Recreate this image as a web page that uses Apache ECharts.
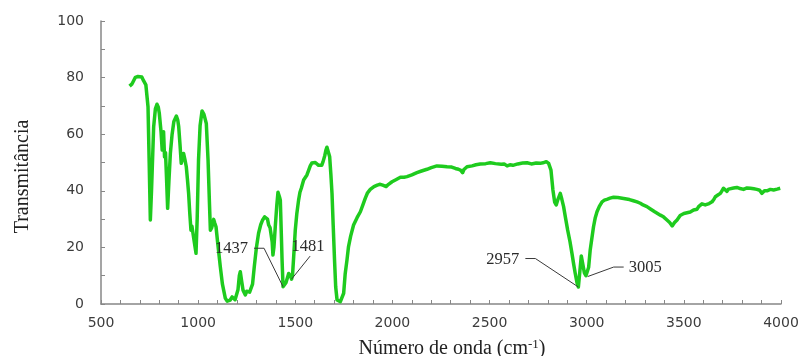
<!DOCTYPE html>
<html>
<head>
<meta charset="utf-8">
<script src="https://cdn.jsdelivr.net/npm/echarts@6/dist/echarts.min.js"></script>
<style>
  html, body { margin: 0; padding: 0; background: #ffffff; }
  #chart { width: 802px; height: 356px; }
</style>
</head>
<body>
<div id="chart"></div>
<script>
// FTIR spectrum: wavenumber (cm-1) against transmittance (%)
const wavenumbers = [
  647, 660, 668, 677, 690, 699, 710, 719, 731, 742, 748, 754, 760, 771, 780, 788, 795, 800, 809, 815,
  822, 827, 832, 837, 843, 850, 857, 866, 875, 888, 895, 900, 907, 913, 919, 925, 932, 939, 945, 951,
  957, 963, 968, 973, 980, 989, 995, 1002, 1010, 1020, 1030, 1042, 1051, 1058, 1063, 1070, 1080, 1086, 1092, 1100,
  1114, 1125, 1140, 1150, 1165, 1175, 1183, 1190, 1196, 1205, 1212, 1217, 1224, 1231, 1243, 1250, 1257, 1265, 1272, 1280,
  1289, 1300, 1311, 1322, 1332, 1342, 1351, 1357, 1363, 1370, 1377, 1381, 1385, 1390, 1397, 1405, 1411, 1416, 1420, 1423,
  1428, 1432, 1437, 1445, 1452, 1460, 1466, 1472, 1476, 1481, 1486, 1492, 1500, 1508, 1517, 1524, 1531, 1537, 1543, 1550,
  1560, 1570, 1577, 1585, 1594, 1603, 1612, 1620, 1629, 1636, 1643, 1652, 1658, 1663, 1668, 1677, 1683, 1689, 1695, 1702,
  1708, 1715, 1722, 1732, 1740, 1749, 1757, 1766, 1774, 1785, 1800, 1818, 1835, 1848, 1860, 1872, 1886, 1905, 1922, 1937,
  1950, 1960, 1968, 1980, 1998, 2020, 2041, 2060, 2075, 2100, 2126, 2150, 2178, 2200, 2229, 2255, 2281, 2305, 2324, 2340,
  2352, 2361, 2368, 2384, 2410, 2430, 2452, 2480, 2504, 2530, 2560, 2575, 2590, 2605, 2620, 2645, 2670, 2693, 2715, 2740,
  2761, 2775, 2792, 2804, 2816, 2826, 2835, 2843, 2852, 2864, 2872, 2881, 2892, 2902, 2914, 2924, 2933, 2941, 2950, 2957,
  2964, 2972, 2980, 2988, 2996, 3005, 3010, 3018, 3026, 3035, 3044, 3053, 3065, 3079, 3091, 3104, 3120, 3138, 3160, 3190,
  3220, 3240, 3259, 3276, 3290, 3310, 3330, 3350, 3379, 3395, 3413, 3427, 3440, 3452, 3465, 3481, 3500, 3533, 3550, 3568,
  3576, 3585, 3593, 3602, 3610, 3619, 3630, 3645, 3655, 3662, 3675, 3688, 3696, 3704, 3713, 3722, 3730, 3739, 3756, 3773,
  3790, 3807, 3825, 3842, 3860, 3876, 3890, 3902, 3915, 3928, 3945, 3962, 3980, 3996
];

const transmittance = [
  77.0, 77.8, 78.0, 80.1, 80.4, 80.9, 80.2, 78.9, 77.4, 69.7, 50.0, 29.7, 40.0, 62.6, 69.0, 70.6, 69.5, 67.4, 60.9, 54.4,
  60.9, 52.0, 53.5, 45.0, 33.8, 44.0, 53.2, 60.0, 64.5, 66.4, 65.0, 62.6, 56.0, 49.7, 51.5, 53.2, 51.0, 48.5, 44.0, 39.1,
  32.0, 26.1, 27.5, 27.3, 22.0, 17.9, 30.0, 50.9, 63.0, 68.2, 67.0, 63.8, 50.9, 36.0, 26.1, 27.0, 29.9, 28.5, 27.3, 22.0,
  13.2, 7.0, 2.0, 1.0, 1.4, 2.5, 2.4, 1.5, 1.7, 5.0, 10.0, 11.4, 8.0, 4.9, 3.2, 4.5, 4.9, 4.2, 3.8, 7.0,
  13.2, 20.0, 25.0, 28.0, 29.7, 30.8, 31.2, 30.0, 27.9, 27.0, 26.7, 22.0, 17.3, 20.0, 27.3, 35.0, 39.5, 39.0, 37.5, 36.7,
  25.0, 15.5, 6.1, 6.5, 7.5, 8.2, 10.8, 10.4, 9.8, 8.8, 10.5, 17.0, 26.1, 32.0, 36.7, 39.5, 40.9, 41.5, 43.8, 44.2,
  45.6, 47.5, 48.8, 49.8, 50.3, 50.0, 49.5, 49.0, 48.3, 49.0, 50.3, 52.5, 54.5, 55.4, 55.0, 52.0, 46.0, 39.1, 28.0, 15.5,
  6.0, 1.4, 0.8, 0.8, 1.5, 3.8, 10.8, 15.5, 20.3, 24.0, 27.9, 30.5, 32.6, 35.0, 37.3, 39.3, 40.5, 41.5, 42.0, 42.3,
  42.0, 41.5, 41.5, 42.3, 43.2, 44.0, 44.8, 44.8, 45.0, 45.6, 46.4, 47.0, 47.6, 48.2, 48.8, 48.7, 48.5, 48.4, 47.9, 47.6,
  47.2, 46.4, 47.5, 48.5, 48.8, 49.2, 49.5, 49.6, 49.9, 49.6, 49.4, 49.5, 48.8, 49.2, 49.0, 49.5, 49.8, 49.9, 49.5, 49.8,
  49.7, 49.9, 50.3, 49.7, 47.3, 40.3, 36.0, 35.0, 37.0, 39.1, 37.0, 34.4, 30.0, 26.1, 22.0, 17.9, 14.0, 10.8, 7.5, 6.0,
  11.0, 17.0, 14.0, 11.0, 10.0, 9.7, 13.0, 19.1, 23.0, 27.3, 30.5, 32.6, 34.5, 36.1, 36.7, 37.0, 37.4, 37.7, 37.6, 37.3,
  36.9, 36.5, 36.1, 35.6, 35.0, 34.4, 33.5, 32.6, 31.4, 30.8, 29.7, 28.8, 27.6, 28.8, 29.7, 31.3, 32.0, 32.5, 33.2, 33.5,
  34.4, 35.0, 35.4, 35.6, 35.0, 34.4, 35.5, 36.1, 37.0, 37.9, 38.5, 39.1, 40.0, 40.9, 40.4, 39.8, 40.6, 40.9, 41.0, 41.2,
  40.8, 40.5, 41.0, 40.9, 40.7, 40.5, 40.2, 39.1, 40.0, 40.0, 40.5, 40.3, 40.6, 40.9
];

// band positions marked on the spectrum
const bandLabels = [1437, 1481, 2957, 3005];

// axis ranges
const xRange = [500, 4000];
const xStep = 500;
const yRange = [0, 100];
const yStep = 20;

const axisColor = '#878787';
const textColor = '#3c3c3c';

const chart = echarts.init(document.getElementById('chart'), null, { renderer: 'canvas' });

const seriesData = wavenumbers.map((w, i) => [w, transmittance[i]]);

chart.setOption({
  animation: false,
  backgroundColor: '#ffffff',
  grid: { left: 101, right: 21, top: 21, bottom: 52, containLabel: false, outerBoundsMode: 'none' },
  xAxis: {
    type: 'value',
    min: xRange[0],
    max: xRange[1],
    interval: xStep,
    name: 'Número de onda (cm{sup|-1})',
    nameLocation: 'middle',
    nameGap: 34,
    nameTextStyle: {
      fontFamily: 'Liberation Serif',
      fontSize: 20,
      color: '#222222',
      padding: [0, 0, 0, 22],
      rich: {
        sup: { fontFamily: 'Liberation Serif', fontSize: 13, color: '#222222', verticalAlign: 'top', padding: [0, 0, 9, 0] }
      }
    },
    axisLine: { onZero: false, lineStyle: { color: axisColor, width: 1.5 } },
    axisTick: { show: true, inside: true, length: 4, lineStyle: { color: axisColor } },
    minorTick: { show: true, splitNumber: 5, length: 4, lineStyle: { color: axisColor } },
    splitLine: { show: false },
    axisLabel: {
      fontFamily: 'DejaVu Sans', fontSize: 14, color: textColor, margin: 12,
      formatter: (v) => String(v)
    }
  },
  yAxis: {
    type: 'value',
    min: yRange[0],
    max: yRange[1],
    interval: yStep,
    name: 'Transmitância',
    nameLocation: 'middle',
    nameGap: 68,
    nameTextStyle: { fontFamily: 'Liberation Serif', fontSize: 20, color: '#222222', padding: [0, 28, 0, 0] },
    axisLine: { show: true, lineStyle: { color: axisColor, width: 1.5 } },
    axisTick: { show: true, inside: true, length: 4, lineStyle: { color: axisColor } },
    minorTick: { show: true, splitNumber: 2, length: 4, lineStyle: { color: axisColor } },
    splitLine: { show: false },
    axisLabel: {
      fontFamily: 'DejaVu Sans', fontSize: 14, color: textColor, margin: 17,
      formatter: (v) => String(v)
    }
  },
  series: [{
    type: 'line',
    data: seriesData,
    showSymbol: false,
    smooth: false,
    lineStyle: { color: '#1ecb1e', width: 3.5, join: 'round' },
    z: 3
  }]
});

// leader lines and band labels, offsets in pixels from the band minimum
const leaderStyle = {
  1437: { path: [[-19, -38.5], [-29, -38.5]], text: [-35, -38], align: 'right' },
  1481: { path: [[18.5, -23]], text: [0, -32], align: 'left' },
  2957: { path: [[-43, -28.5], [-53, -28.5]], text: [-59, -27], align: 'right' },
  3005: { path: [[26, -9.5], [36, -9.5]], text: [41, -8.5], align: 'left' }
};

const graphics = [];
bandLabels.forEach((band) => {
  const idx = wavenumbers.indexOf(band);
  const p = chart.convertToPixel({ gridIndex: 0 }, [band, transmittance[idx]]);
  const cfg = leaderStyle[band];
  const pts = [[p[0], p[1]]].concat(cfg.path.map(o => [p[0] + o[0], p[1] + o[1]]));
  graphics.push({
    type: 'polyline',
    shape: { points: pts },
    style: { stroke: '#3a3a3a', lineWidth: 1, fill: null },
    z: 10
  });
  graphics.push({
    type: 'text',
    x: p[0] + cfg.text[0],
    y: p[1] + cfg.text[1],
    style: {
      text: String(band),
      fontFamily: 'Liberation Serif',
      fontSize: 16.5,
      fill: '#2a2a2a',
      align: cfg.align,
      verticalAlign: 'middle'
    },
    z: 10
  });
});

chart.setOption({ graphic: graphics });
</script>
</body>
</html>
